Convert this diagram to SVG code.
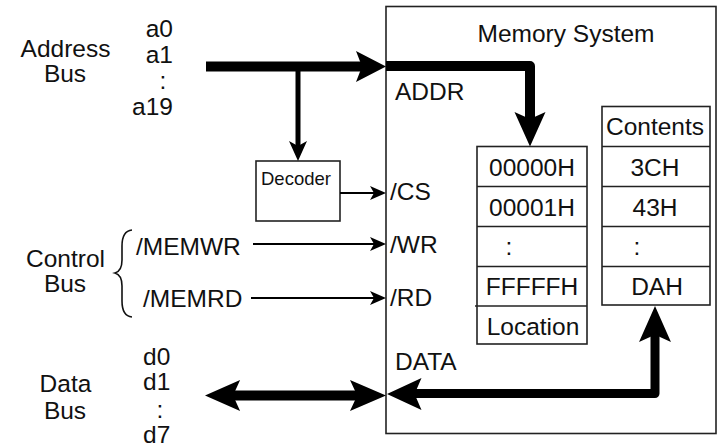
<svg xmlns="http://www.w3.org/2000/svg" width="719" height="447" viewBox="0 0 719 447">
  <style>
    text { font-family: "Liberation Sans", Arial, sans-serif; font-size: 24.5px; fill: #111; }
    .small { font-size: 18.5px; }
    .mid { text-anchor: middle; }
    .end { text-anchor: end; }
    .box { fill: #fff; stroke: #222; stroke-width: 1.6; }
    .cell { stroke: #222; stroke-width: 1.6; }
    .bus { fill: none; stroke: #000; stroke-width: 10; stroke-linejoin: round; }
    .wire { fill: none; stroke: #000; stroke-width: 2; }
    .brace { fill: none; stroke: #111; stroke-width: 1.6; }
  </style>
  <defs>
    <!-- arrowheads pointing along +x, tip at the origin -->
    <path id="headBig" d="M0,0 L-30,-15.5 L-24,0 L-30,15.5 Z" fill="#000"/>
    <path id="headMid" d="M0,0 L-20,-9 L-15,0 L-20,9 Z" fill="#000"/>
    <path id="headSmall" d="M0,0 L-16,-7 L-12,0 L-16,7 Z" fill="#000"/>
  </defs>

  <!-- memory system enclosure -->
  <g id="memory-system">
    <rect class="box" x="386" y="6.5" width="330" height="427"/>
    <text x="566" y="42" class="mid">Memory System</text>
    <text x="395" y="100">ADDR</text>
    <text x="390" y="200">/CS</text>
    <text x="390" y="253">/WR</text>
    <text x="390" y="306">/RD</text>
    <text x="395" y="370">DATA</text>
  </g>

  <!-- address column -->
  <g id="location-table">
    <rect class="box" x="477" y="146.5" width="110" height="197.5"/>
    <line class="cell" x1="477" y1="186.5" x2="587" y2="186.5"/>
    <line class="cell" x1="477" y1="226.5" x2="587" y2="226.5"/>
    <line class="cell" x1="477" y1="266.5" x2="587" y2="266.5"/>
    <line class="cell" x1="475" y1="306" x2="587" y2="306"/>
    <text x="532" y="176" class="mid">00000H</text>
    <text x="532" y="216" class="mid">00001H</text>
    <text x="509" y="255" class="mid">:</text>
    <text x="532" y="295" class="mid">FFFFFH</text>
    <text x="533" y="335" class="mid">Location</text>
  </g>

  <!-- contents column -->
  <g id="contents-table">
    <rect class="box" x="602" y="106.5" width="108" height="198.5"/>
    <line class="cell" x1="602" y1="146.5" x2="710" y2="146.5"/>
    <line class="cell" x1="602" y1="186.5" x2="710" y2="186.5"/>
    <line class="cell" x1="602" y1="226.5" x2="710" y2="226.5"/>
    <line class="cell" x1="602" y1="266.5" x2="710" y2="266.5"/>
    <text x="655" y="135" class="mid">Contents</text>
    <text x="655" y="176" class="mid">3CH</text>
    <text x="655" y="216" class="mid">43H</text>
    <text x="637" y="255" class="mid">:</text>
    <text x="657" y="295" class="mid">DAH</text>
  </g>

  <!-- address decoder -->
  <g id="decoder">
    <rect class="box" x="256" y="161" width="84" height="60"/>
    <text x="261" y="185" class="small">Decoder</text>
  </g>

  <!-- bus labels -->
  <g id="address-bus">
    <text x="65.5" y="57" class="mid">Address</text>
    <text x="65" y="82" class="mid">Bus</text>
    <text x="173" y="37" class="end">a0</text>
    <text x="173" y="63" class="end">a1</text>
    <text x="163" y="89" class="mid">:</text>
    <text x="173" y="115" class="end">a19</text>
  </g>

  <g id="control-bus">
    <text x="65.5" y="267" class="mid">Control</text>
    <text x="65" y="291.5" class="mid">Bus</text>
    <path class="brace" d="M132,230 Q122,231 122,246 L122,260 Q122,271 115,273 Q122,275 122,286 L122,301 Q122,316 132,317"/>
    <text x="136" y="255">/MEMWR</text>
    <text x="143" y="307">/MEMRD</text>
  </g>

  <g id="data-bus">
    <text x="65.5" y="392" class="mid">Data</text>
    <text x="65" y="419" class="mid">Bus</text>
    <text x="143" y="365">d0</text>
    <text x="143" y="390">d1</text>
    <text x="160" y="418" class="mid">:</text>
    <text x="143" y="443">d7</text>
  </g>

  <!-- connectors -->
  <g id="connectors">
    <!-- address bus into the memory system -->
    <line class="bus" x1="206" y1="66.5" x2="364" y2="66.5"/>
    <use href="#headBig" transform="translate(386,66.5)"/>
    <!-- address bus branch to decoder -->
    <line class="wire" style="stroke-width:5" x1="298" y1="66.5" x2="298" y2="147"/>
    <use href="#headMid" transform="translate(298,161) rotate(90)"/>
    <!-- ADDR to location table -->
    <path class="bus" d="M386,66 L530,66 L530,120"/>
    <use href="#headBig" transform="translate(530,146.5) rotate(90) scale(1.15,1)"/>
    <!-- decoder to /CS -->
    <line class="wire" x1="340" y1="193" x2="375" y2="193"/>
    <use href="#headSmall" transform="translate(386,193)"/>
    <!-- control lines -->
    <line class="wire" x1="253" y1="244" x2="375" y2="244"/>
    <use href="#headSmall" transform="translate(386,244)"/>
    <line class="wire" x1="251" y1="298" x2="375" y2="298"/>
    <use href="#headSmall" transform="translate(386,298)"/>
    <!-- contents to DATA -->
    <path class="bus" style="stroke-width:9" d="M655,334 L655,393.5 L412,393.5"/>
    <use href="#headBig" transform="translate(655,306) rotate(-90) scale(1.2,1.03)"/>
    <use href="#headBig" transform="translate(387,394) rotate(180) scale(1.15,1.03)"/>
    <!-- external data bus, bidirectional -->
    <line class="bus" x1="230" y1="395.5" x2="360" y2="395.5"/>
    <use href="#headBig" transform="translate(205,395.5) rotate(180) scale(1.17,1)"/>
    <use href="#headBig" transform="translate(386,395.5) scale(1.2,1)"/>
  </g>
</svg>
